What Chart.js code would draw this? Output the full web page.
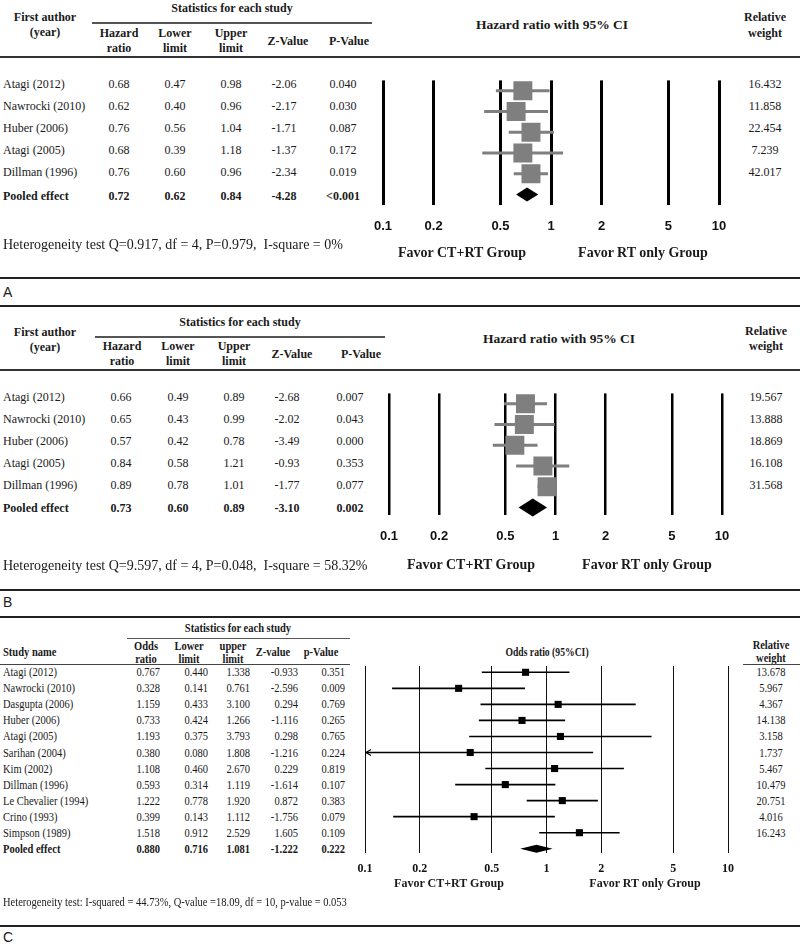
<!DOCTYPE html>
<html>
<head>
<meta charset="utf-8">
<script src="https://cdn.jsdelivr.net/npm/chart.js@4.4.1/dist/chart.umd.min.js"></script>
<style>
  html, body { margin: 0; padding: 0; background: #fff; }
  #fig { position: relative; width: 800px; height: 944px; overflow: hidden; background: #fff; }
  .t { position: absolute; white-space: pre; line-height: 1; color: #1a1a1a; }
  .rule { position: absolute; background: #222; }
  .plot { position: absolute; }
</style>
</head>
<body>
<div id="fig"></div>
<script>
// ---- data ----
const axisTicks = [0.1, 0.2, 0.5, 1, 2, 5, 10];

// A: hazard ratio (first outcome)
const studiesA = ['Atagi (2012)', 'Nawrocki (2010)', 'Huber (2006)', 'Atagi (2005)', 'Dillman (1996)'];
const hrA = [0.68, 0.62, 0.76, 0.68, 0.76];
const loA = [0.47, 0.40, 0.56, 0.39, 0.60];
const hiA = [0.98, 0.96, 1.04, 1.18, 0.96];
const zA = ['-2.06', '-2.17', '-1.71', '-1.37', '-2.34'];
const pA = ['0.040', '0.030', '0.087', '0.172', '0.019'];
const weightA = ['16.432', '11.858', '22.454', '7.239', '42.017'];
const pooledA = [0.72, 0.62, 0.84];
const pooledStatsA = ['-4.28', '<0.001'];
const heteroA = 'Heterogeneity test Q=0.917, df = 4, P=0.979,  I-square = 0%';

// B: hazard ratio (second outcome)
const studiesB = ['Atagi (2012)', 'Nawrocki (2010)', 'Huber (2006)', 'Atagi (2005)', 'Dillman (1996)'];
const hrB = [0.66, 0.65, 0.57, 0.84, 0.89];
const loB = [0.49, 0.43, 0.42, 0.58, 0.78];
const hiB = [0.89, 0.99, 0.78, 1.21, 1.01];
const zB = ['-2.68', '-2.02', '-3.49', '-0.93', '-1.77'];
const pB = ['0.007', '0.043', '0.000', '0.353', '0.077'];
const weightB = ['19.567', '13.888', '18.869', '16.108', '31.568'];
const pooledB = [0.73, 0.60, 0.89];
const pooledStatsB = ['-3.10', '0.002'];
const heteroB = 'Heterogeneity test Q=9.597, df = 4, P=0.048,  I-square = 58.32%';

// C: odds ratio
const studiesC = ['Atagi (2012)', 'Nawrocki (2010)', 'Dasgupta (2006)', 'Huber (2006)', 'Atagi (2005)',
  'Sarihan (2004)', 'Kim (2002)', 'Dillman (1996)', 'Le Chevalier (1994)', 'Crino (1993)', 'Simpson (1989)'];
const orC = [0.767, 0.328, 1.159, 0.733, 1.193, 0.380, 1.108, 0.593, 1.222, 0.399, 1.518];
const loC = [0.440, 0.141, 0.433, 0.424, 0.375, 0.080, 0.460, 0.314, 0.778, 0.143, 0.912];
const hiC = [1.338, 0.761, 3.100, 1.266, 3.793, 1.808, 2.670, 1.119, 1.920, 1.112, 2.529];
const zC = ['-0.933', '-2.596', '0.294', '-1.116', '0.298', '-1.216', '0.229', '-1.614', '0.872', '-1.756', '1.605'];
const pC = ['0.351', '0.009', '0.769', '0.265', '0.765', '0.224', '0.819', '0.107', '0.383', '0.079', '0.109'];
const weightC = ['13.678', '5.967', '4.367', '14.138', '3.158', '1.737', '5.467', '10.479', '20.751', '4.016', '16.243'];
const pooledC = [0.880, 0.716, 1.081];
const pooledStatsC = ['-1.222', '0.222'];
const heteroC = 'Heterogeneity test: I-squared = 44.73%, Q-value =18.09, df = 10, p-value = 0.053';

// ---- helpers ----
const SERIF = '"Liberation Serif", "Times New Roman", serif';
const SANS = '"Liberation Sans", Arial, sans-serif';
const fig = document.getElementById('fig');

function put(x, y, s, o = {}) {
  const d = document.createElement('div');
  d.className = 't';
  d.textContent = s;
  d.style.left = x + 'px';
  d.style.top = y + 'px';
  d.style.font = (o.bold ? 'bold ' : '') + (o.size || 12) + 'px ' + (o.family || SERIF);
  const a = o.align || 'center';
  const tx = a === 'left' ? '0' : a === 'right' ? '-100%' : '-50%';
  d.style.transformOrigin = (a === 'left' ? 'left' : a === 'right' ? 'right' : 'center') + ' center';
  d.style.transform = 'translate(' + tx + ', -50%)' + (o.sx ? ' scaleX(' + o.sx + ')' : '');
  fig.appendChild(d);
}

function rule(x1, x2, y, h, color) {
  const d = document.createElement('div');
  d.className = 'rule';
  d.style.left = x1 + 'px';
  d.style.width = (x2 - x1) + 'px';
  d.style.top = (y - h / 2) + 'px';
  d.style.height = h + 'px';
  if (color) d.style.background = color;
  fig.appendChild(d);
}

// one forest plot: log x axis, one row per study, pooled diamond in the last row
function forest(o) {
  const a = o.area;
  const padL = 30, padR = 30, padT = 6, axisH = 44;
  const cw = a.right - a.left + padL + padR;
  const ch = a.bottom - a.top + padT + axisH;
  const wrap = document.createElement('div');
  wrap.className = 'plot';
  wrap.style.left = (a.left - padL) + 'px';
  wrap.style.top = (a.top - padT) + 'px';
  wrap.style.width = cw + 'px';
  wrap.style.height = ch + 'px';
  const cv = document.createElement('canvas');
  cv.width = cw;
  cv.height = ch;
  wrap.appendChild(cv);
  fig.appendChild(wrap);

  const n = o.est.length;
  const boxes = {
    data: o.est.map((v, i) => ({ x: v, y: i })),
    pointStyle: 'rect', pointRadius: o.boxR, backgroundColor: o.boxColor, borderWidth: 0
  };
  const cis = o.est.map((v, i) => ({
    data: [{ x: o.lo[i], y: i }, { x: o.hi[i], y: i }],
    showLine: true, borderColor: o.ciColor, borderWidth: o.ciWidth, pointRadius: 0
  }));

  const marks = {
    id: 'forestMarks',
    afterDatasetsDraw(chart) {
      const { ctx } = chart;
      const x = chart.scales.x, y = chart.scales.y;
      const yc = y.getPixelForValue(n);
      const xm = x.getPixelForValue(o.pooled[0]);
      const xl = x.getPixelForValue(o.pooled[1]);
      const xr = x.getPixelForValue(o.pooled[2]);
      ctx.save();
      ctx.fillStyle = '#000';
      ctx.beginPath();
      ctx.moveTo(xl, yc);
      ctx.lineTo(xm, yc - o.diamondH);
      ctx.lineTo(xr, yc);
      ctx.lineTo(xm, yc + o.diamondH);
      ctx.closePath();
      ctx.fill();
      // arrow where an interval runs past the left end of the axis
      ctx.strokeStyle = o.ciColor;
      ctx.lineWidth = 1.2;
      o.lo.forEach((v, i) => {
        if (v >= x.min) return;
        const px = x.getPixelForValue(x.min) + 1, py = y.getPixelForValue(i);
        ctx.beginPath();
        ctx.moveTo(px + 5, py - 3);
        ctx.lineTo(px, py);
        ctx.lineTo(px + 5, py + 3);
        ctx.stroke();
      });
      ctx.restore();
    }
  };

  const lh = o.tickFont.size * 1.2;
  new Chart(cv, {
    type: 'scatter',
    data: { datasets: [boxes, ...cis] },
    options: {
      responsive: false,
      animation: false,
      events: [],
      layout: { padding: { left: padL, right: padR, top: padT, bottom: 0 } },
      plugins: { legend: { display: false }, tooltip: { enabled: false } },
      scales: {
        x: {
          type: 'logarithmic', min: 0.1, max: 10,
          afterBuildTicks: s => { s.ticks = axisTicks.map(v => ({ value: v })); },
          afterFit: s => { s.height = axisH; },
          grid: { color: o.gridColor, lineWidth: o.gridWidth, drawTicks: false },
          border: { display: false },
          ticks: {
            autoSkip: false, maxRotation: 0, color: '#111', font: o.tickFont,
            padding: o.tickY - a.bottom - lh / 2,
            callback: v => String(v)
          }
        },
        y: {
          type: 'linear', display: false, reverse: true,
          min: -(o.rowY0 - a.top) / o.rowGap,
          max: (a.bottom - o.rowY0) / o.rowGap
        }
      }
    },
    plugins: [marks]
  });
}

// ---- panel A ----
put(45, 17, 'First author', { bold: true });
put(45, 32, '(year)', { bold: true });
put(232, 8, 'Statistics for each study', { bold: true });
rule(92, 372, 23, 1.2, '#555');
put(119, 33, 'Hazard', { bold: true }); put(119, 48, 'ratio', { bold: true });
put(175, 33, 'Lower', { bold: true }); put(175, 48, 'limit', { bold: true });
put(231, 33, 'Upper', { bold: true }); put(231, 48, 'limit', { bold: true });
put(288, 41, 'Z-Value', { bold: true });
put(349, 41, 'P-Value', { bold: true });
put(552, 25, 'Hazard ratio with 95% CI', { bold: true, size: 13.5 });
put(765, 17, 'Relative', { bold: true }); put(765, 33, 'weight', { bold: true });
rule(0, 800, 57, 1.6, '#333');

const colsA = [119, 175, 231, 284, 343];
studiesA.forEach((s, i) => {
  const y = 84 + 22 * i;
  put(3, y, s, { align: 'left' });
  [hrA[i].toFixed(2), loA[i].toFixed(2), hiA[i].toFixed(2), zA[i], pA[i]]
    .forEach((v, j) => put(colsA[j], y, v));
  put(765, y, weightA[i]);
});
[pooledA[0].toFixed(2), pooledA[1].toFixed(2), pooledA[2].toFixed(2), ...pooledStatsA]
  .forEach((v, j) => put(colsA[j], 196, v, { bold: true }));
put(3, 196, 'Pooled effect', { align: 'left', bold: true });

forest({
  est: hrA, lo: loA, hi: hiA, pooled: pooledA,
  area: { left: 383, right: 719, top: 73, bottom: 205 }, rowY0: 84, rowGap: 22, tickY: 226,
  gridColor: '#000', gridWidth: 3, ciColor: '#7f7f7f', ciWidth: 3,
  boxColor: '#7f7f7f', boxR: 13.4, diamondH: 7,
  tickFont: { family: SANS, size: 13, weight: 'bold' }
});
put(462, 253, 'Favor CT+RT Group', { bold: true, size: 14 });
put(643, 253, 'Favor RT only Group', { bold: true, size: 14 });
put(3, 245, heteroA, { align: 'left', size: 14 });
rule(0, 800, 278, 2, '#222');
put(3, 292, 'A', { align: 'left', family: SANS, size: 14 });

// ---- panel B ----
rule(0, 800, 306, 2, '#222');
put(45, 332, 'First author', { bold: true });
put(45, 347, '(year)', { bold: true });
put(240, 322, 'Statistics for each study', { bold: true });
rule(95, 385, 337, 1.2, '#555');
put(122, 346, 'Hazard', { bold: true }); put(122, 361, 'ratio', { bold: true });
put(178, 346, 'Lower', { bold: true }); put(178, 361, 'limit', { bold: true });
put(234, 346, 'Upper', { bold: true }); put(234, 361, 'limit', { bold: true });
put(292, 354, 'Z-Value', { bold: true });
put(361, 354, 'P-Value', { bold: true });
put(559, 339, 'Hazard ratio with 95% CI', { bold: true, size: 13.5 });
put(766, 331, 'Relative', { bold: true }); put(766, 346, 'weight', { bold: true });
rule(0, 800, 370, 1.6, '#333');

const colsB = [121, 178, 234, 287, 350];
studiesB.forEach((s, i) => {
  const y = 397 + 22 * i;
  put(3, y, s, { align: 'left' });
  [hrB[i].toFixed(2), loB[i].toFixed(2), hiB[i].toFixed(2), zB[i], pB[i]]
    .forEach((v, j) => put(colsB[j], y, v));
  put(766, y, weightB[i]);
});
[pooledB[0].toFixed(2), pooledB[1].toFixed(2), pooledB[2].toFixed(2), ...pooledStatsB]
  .forEach((v, j) => put(colsB[j], 508, v, { bold: true }));
put(3, 508, 'Pooled effect', { align: 'left', bold: true });

forest({
  est: hrB, lo: loB, hi: hiB, pooled: pooledB,
  area: { left: 389, right: 722, top: 386, bottom: 515 }, rowY0: 397, rowGap: 22, tickY: 536,
  gridColor: '#000', gridWidth: 2.5, ciColor: '#7f7f7f', ciWidth: 3,
  boxColor: '#7f7f7f', boxR: 13.4, diamondH: 9,
  tickFont: { family: SANS, size: 13, weight: 'bold' }
});
put(471, 565, 'Favor CT+RT Group', { bold: true, size: 14 });
put(647, 565, 'Favor RT only Group', { bold: true, size: 14 });
put(3, 566, heteroB, { align: 'left', size: 14 });
rule(0, 800, 590, 2, '#222');
put(3, 602, 'B', { align: 'left', family: SANS, size: 14 });

// ---- panel C ----
const SX = 0.84;
const FC = 12.5;
rule(0, 800, 617, 2, '#222');
put(238, 628, 'Statistics for each study', { bold: true, size: FC, sx: SX });
rule(127, 350, 638, 1, '#555');
put(3, 652, 'Study name', { align: 'left', bold: true, size: FC, sx: SX });
put(146, 646, 'Odds', { bold: true, size: FC, sx: SX }); put(146, 659, 'ratio', { bold: true, size: FC, sx: SX });
put(189, 646, 'Lower', { bold: true, size: FC, sx: SX }); put(189, 659, 'limit', { bold: true, size: FC, sx: SX });
put(233, 646, 'upper', { bold: true, size: FC, sx: SX }); put(233, 659, 'limit', { bold: true, size: FC, sx: SX });
put(273, 652, 'Z-value', { bold: true, size: FC, sx: SX });
put(321, 652, 'p-Value', { bold: true, size: FC, sx: SX });
rule(0, 350, 664, 1, '#444');
put(547, 652, 'Odds ratio (95%CI)', { bold: true, size: 11.5, sx: SX });
put(771, 645, 'Relative', { bold: true, size: FC, sx: SX }); put(771, 658, 'weight', { bold: true, size: FC, sx: SX });
rule(743, 800, 664, 1, '#444');

const colsC = [160, 208, 250, 298, 345];
studiesC.forEach((s, i) => {
  const y = 672.3 + 16.04 * i;
  put(3, y, s, { align: 'left', size: FC, sx: SX });
  [orC[i].toFixed(3), loC[i].toFixed(3), hiC[i].toFixed(3), zC[i], pC[i]]
    .forEach((v, j) => put(colsC[j], y, v, { align: 'right', size: FC, sx: SX }));
  put(771, y, weightC[i], { size: FC, sx: SX });
});
[pooledC[0].toFixed(3), pooledC[1].toFixed(3), pooledC[2].toFixed(3), ...pooledStatsC]
  .forEach((v, j) => put(colsC[j], 849, v, { align: 'right', bold: true, size: FC, sx: SX }));
put(3, 849, 'Pooled effect', { align: 'left', bold: true, size: FC, sx: SX });

forest({
  est: orC, lo: loC, hi: hiC, pooled: pooledC,
  area: { left: 365, right: 728, top: 666, bottom: 853 }, rowY0: 672.3, rowGap: 16.04, tickY: 869,
  gridColor: '#111', gridWidth: 1, ciColor: '#000', ciWidth: 1.6,
  boxColor: '#000', boxR: 5, diamondH: 4,
  tickFont: { family: SERIF, size: 12, weight: 'bold' }
});
put(449, 883, 'Favor CT+RT Group', { bold: true, size: 12 });
put(645, 883, 'Favor RT only Group', { bold: true, size: 12 });
put(3, 902, heteroC, { align: 'left', size: FC, sx: SX });
rule(0, 800, 926, 2, '#222');
put(3, 937, 'C', { align: 'left', family: SANS, size: 14 });
</script>
</body>
</html>
